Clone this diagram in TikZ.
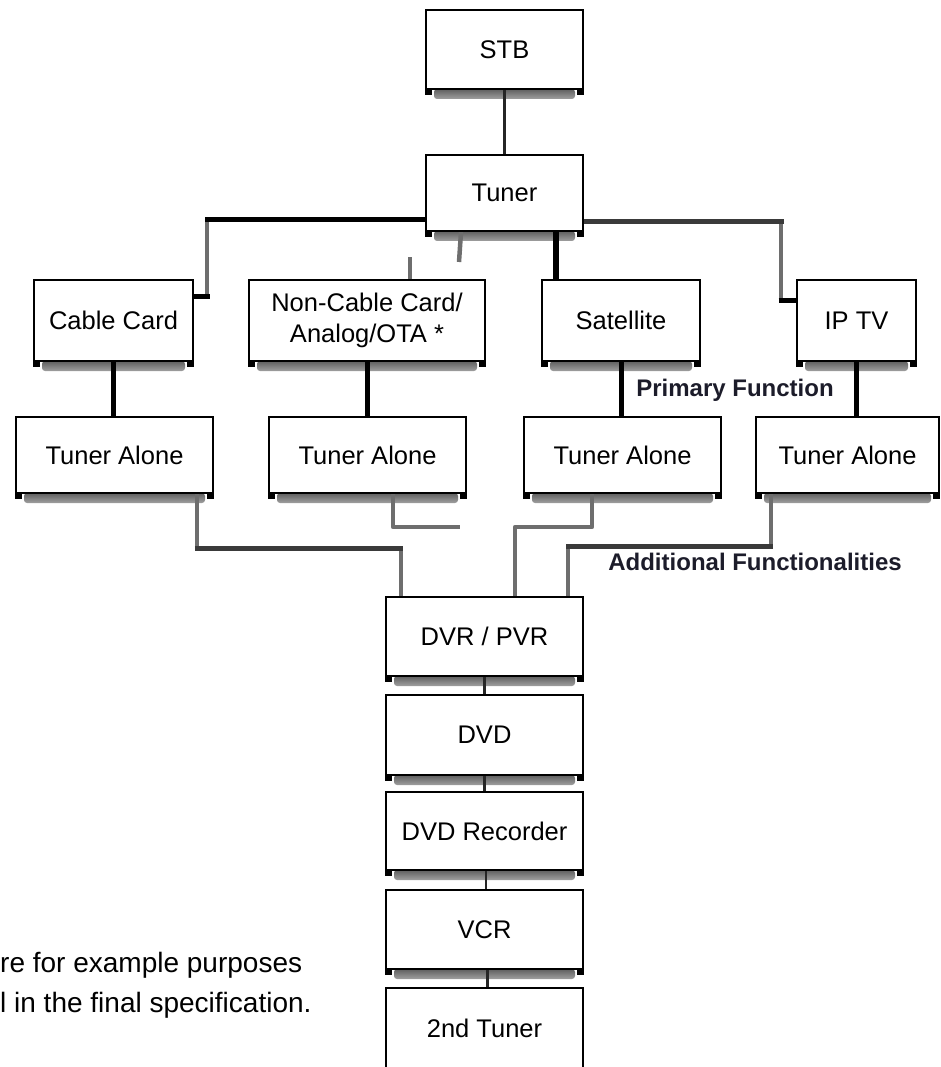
\documentclass[tikz,border=0pt]{standalone}
\usepackage{fontspec}
\setmainfont{Liberation Sans}
\usetikzlibrary{calc}
\pgfdeclarelayer{bg}
\pgfsetlayers{bg,main}
\definecolor{graylink}{HTML}{6E6E6E}
\definecolor{darklink}{HTML}{3A3A3A}
\definecolor{labelc}{HTML}{1C1C2A}
\definecolor{shtop}{HTML}{5E5E5E}
\definecolor{shbot}{HTML}{A0A0A0}
\newcommand\boxfont{\fontsize{25.5}{31}\selectfont}
\newcommand\shadowof[1]{%
  \shade[top color=shtop, bottom color=shbot, rounded corners=3pt]
    ($(#1.south west)+(9,-1)$) rectangle ($(#1.south east)+(-9,9)$);}
\newcommand\feetof[1]{%
  \fill[black] (#1.south west) rectangle ++(7,5);
  \fill[black] (#1.south east) rectangle ++(-7,5);}
\tikzset{
  box/.style={draw=black, line width=2pt, fill=white, inner sep=0pt,
    font=\boxfont, align=center},
  blk/.style={draw=black, line width=5pt},
  gry/.style={draw=graylink, line width=4.5pt},
  dgry/.style={draw=darklink, line width=5pt},
  chain/.style={draw=black!85, line width=2.4pt},
  lbl/.style={font=\bfseries\fontsize{24}{28}\selectfont, text=labelc, inner sep=0pt},
  note/.style={font=\fontsize{28}{34}\selectfont, inner sep=0pt, anchor=base west}
}
\begin{document}
\begin{tikzpicture}[x=1pt, y=-1pt]
\useasboundingbox (0,0) rectangle (941,1067);
\clip (0,0) rectangle (941,1067);
% boxes
\path
  (504.5,49.5)  node[box, minimum width=157pt, minimum height=79pt] (stb) {STB}
  (504.5,193)   node[box, minimum width=157pt, minimum height=76pt] (tuner) {Tuner}
  (113.5,320.5) node[box, minimum width=159pt, minimum height=81pt] (cable) {Cable Card}
  (367,320.5)   node[box, minimum width=236pt, minimum height=81pt] (noncable) {Non-Cable Card/\\Analog/OTA *}
  (621,320.5)   node[box, minimum width=158pt, minimum height=81pt] (sat) {Satellite}
  (856.5,320.5) node[box, minimum width=119pt, minimum height=81pt] (iptv) {IP TV}
  (114.5,455)   node[box, minimum width=197pt, minimum height=76pt] (ta1) {Tuner Alone}
  (367.5,455)   node[box, minimum width=197pt, minimum height=76pt] (ta2) {Tuner Alone}
  (622.5,455)   node[box, minimum width=197pt, minimum height=76pt] (ta3) {Tuner Alone}
  (847.5,455)   node[box, minimum width=183pt, minimum height=76pt] (ta4) {Tuner Alone}
  (484.5,636.5) node[box, minimum width=197pt, minimum height=79pt] (dvr) {DVR / PVR}
  (484.5,735)   node[box, minimum width=197pt, minimum height=80pt] (dvd) {DVD}
  (484.5,831)   node[box, minimum width=197pt, minimum height=78pt] (dvdr) {DVD Recorder}
  (484.5,929.5) node[box, minimum width=197pt, minimum height=79pt] (vcr) {VCR}
  (484.5,1028)  node[box, minimum width=197pt, minimum height=80pt] (tuner2) {2nd Tuner};
\foreach \n in {stb,tuner,cable,noncable,sat,iptv,ta1,ta2,ta3,ta4,dvr,dvd,dvdr,vcr}{\feetof{\n}}
% coordinates
\coordinate (cl) at (207,220);
\coordinate (cl2) at (207,296);
\coordinate (cr) at (781,222);
\coordinate (cr2) at (781,300);
\coordinate (m0) at (461,0);
\coordinate (m1) at (459,262);
\coordinate (s0) at (410,257);
\coordinate (m2) at (556,0);
\coordinate (a1) at (197,548);
\coordinate (a2) at (401,548);
\coordinate (b1) at (393,527);
\coordinate (b2) at (460,527);
\coordinate (c1) at (592,527);
\coordinate (c2) at (515,527);
\coordinate (d1) at (771,546);
\coordinate (d2) at (568,546);
\begin{pgfonlayer}{bg}
\foreach \n in {stb,tuner,cable,noncable,sat,iptv,ta1,ta2,ta3,ta4,dvr,dvd,dvdr,vcr}{\shadowof{\n}}
% connectors top
\draw[chain] (stb.south) -- (tuner.north);
\draw[gry] (cl) -- (cl2);
\draw[blk] (cl -| tuner.west) -- ($(cl)+(-2.5,0)$);
\draw[blk] ($(cl2)+(2.5,0)$) -- (cl2 -| cable.east);
\draw[gry] (cr) -- (cr2);
\draw[dgry] (cr -| tuner.east) -- ($(cr)+(2.5,0)$);
\draw[blk] ($(cr2)+(-2.5,0)$) -- (cr2 -| iptv.west);
\draw[gry] (tuner.south -| m0) -- (m1);
\draw[gry] (s0) -- (s0 |- noncable.north);
\draw[blk, line width=6pt] (tuner.south -| m2) -- (sat.north -| m2);
% row 2 to row 3
\draw[blk] (cable.south) -- (cable.south |- ta1.north);
\draw[blk] (noncable.south) -- (noncable.south |- ta2.north);
\draw[blk] (sat.south) -- (sat.south |- ta3.north);
\draw[blk] (iptv.south) -- (iptv.south |- ta4.north);
% lower connectors
\draw[gry] (ta1.south -| a1) -- (a1);
\draw[gry] (a2) -- (a2 |- dvr.north);
\draw[dgry] ($(a1)+(-2.2,0)$) -- ($(a2)+(2.2,0)$);
\draw[gry, line join=round] (ta2.south -| b1) -- (b1) -- (b2);
\draw[gry, line join=round] (ta3.south -| c1) -- (c1) -- (c2) -- (c2 |- dvr.north);
\draw[gry] (ta4.south -| d1) -- (d1);
\draw[gry] (d2) -- (d2 |- dvr.north);
\draw[dgry] ($(d1)+(2.2,0)$) -- ($(d2)+(-2.2,0)$);
% chain
\draw[chain] (dvr.south) -- (dvd.north);
\draw[chain] (dvd.south) -- (dvdr.north);
\draw[chain] ($(dvdr.south)+(1.5,0)$) -- ($(vcr.north)+(1.5,0)$);
\draw[chain] ($(vcr.south)+(3,0)$) -- ($(tuner2.north)+(3,0)$);
\end{pgfonlayer}
% labels
\node[lbl] (primary) at (735,390) {Primary Function};
\node[lbl] (additional) at (755,562) {Additional Functionalities};
\node[note] (note1) at (0,972) {re for example purposes};
\node[note] (note2) at (0,1012) {l in the final specification.};
\end{tikzpicture}
\end{document}
